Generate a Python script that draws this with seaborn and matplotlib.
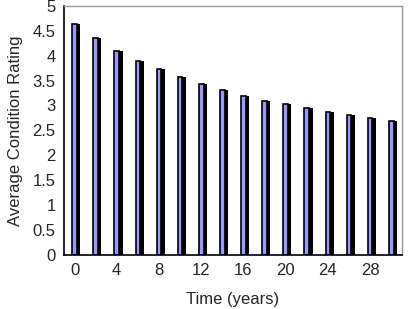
import pandas as pd
import matplotlib
matplotlib.use("Agg")
import matplotlib.pyplot as plt
import matplotlib.patheffects as pe
import seaborn as sns

sns.set_style("white")
plt.rcParams['font.family'] = ['Liberation Sans', 'DejaVu Sans']

years = [0, 2, 4, 6, 8, 10, 12, 14, 16, 18, 20, 22, 24, 26, 28, 30]
rating = [4.63, 4.35, 4.10, 3.90, 3.73, 3.57, 3.44, 3.32,
          3.20, 3.10, 3.02, 2.94, 2.87, 2.80, 2.74, 2.69]
yticks = [0, 0.5, 1, 1.5, 2, 2.5, 3, 3.5, 4, 4.5, 5]

df = pd.DataFrame({"year": years, "rating": rating})

fig = plt.figure(figsize=(4.1, 3.09), dpi=100)
ax = fig.add_axes([0.156, 0.175, 0.824, 0.806])

sns.barplot(data=df, x="year", y="rating", color="#9999ff", saturation=1,
            width=0.22, edgecolor="black", linewidth=1.2, ax=ax)

for bar in ax.patches:
    bar.set_path_effects([
        pe.SimplePatchShadow(offset=(2.5, 0), shadow_rgbFace="black", alpha=1),
        pe.Normal(),
    ])

n = len(years)
ax.set_xlim(-0.5, n - 0.5)
ax.set_ylim(0, 5)
ax.set_yticks(yticks)
ax.set_yticklabels([f"{t:g}" for t in yticks])

# tick marks sit between categories, labels every other bar
ax.set_xticks([i - 0.5 for i in range(n + 1)])
ax.set_xticklabels([])
ax.set_xticks(range(0, n, 2), minor=True)
ax.set_xticklabels([str(y) for y in years[0:n:2]], minor=True)
ax.tick_params(axis="x", which="major", direction="out", length=4, width=1, color="black")
ax.tick_params(axis="x", which="minor", length=0, pad=6, labelsize=12)
ax.tick_params(axis="y", direction="out", length=4, width=1, color="black", labelsize=12, pad=2)

for side in ["left", "bottom"]:
    ax.spines[side].set_color("black")
    ax.spines[side].set_linewidth(1.2)
for side in ["top", "right"]:
    ax.spines[side].set_color("#999999")
    ax.spines[side].set_linewidth(1)

ax.set_xlabel("Time (years)", fontsize=12, labelpad=10)
ax.set_ylabel("Average Condition Rating", fontsize=12, labelpad=7)

fig.savefig("out.png", dpi=100)
